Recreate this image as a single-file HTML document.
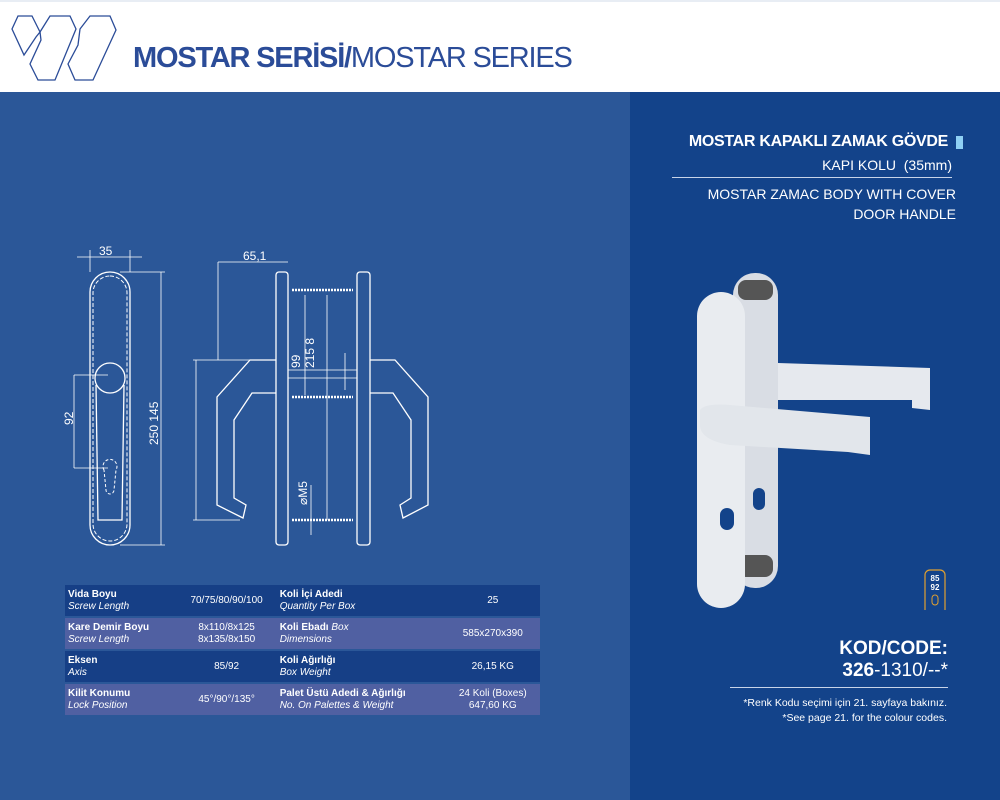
<!DOCTYPE html>
<html><head><meta charset="utf-8"><style>
body{margin:0;width:1000px;height:800px;position:relative;overflow:hidden;font-family:"Liberation Sans",sans-serif;background:#fff}
.hdr{position:absolute;left:0;top:0;width:1000px;height:92px;background:#fff;border-top:2px solid #e8edf4;box-sizing:border-box}
.title{position:absolute;left:133px;top:40px;font-size:29px;color:#2b4c98;letter-spacing:-1.2px;white-space:nowrap}
.left{position:absolute;left:0;top:92px;width:630px;height:708px;background:#2b5798}
.right{position:absolute;left:630px;top:92px;width:370px;height:708px;background:#13438a}
table{position:absolute;left:65px;top:583px;width:475px;border-collapse:separate;border-spacing:0 2px;font-size:10px;color:#fff}
td{padding:2px 3px;height:27px;vertical-align:middle;line-height:12px}
tr.a td{background:#163f86}
tr.b td{background:#5060a2}
b{font-weight:bold}
i{font-style:italic}
.c{text-align:center}
.rt{position:absolute;right:45px;color:#fff;text-align:right;white-space:nowrap}
</style></head><body>
<div class="hdr">
<svg width="140" height="90" style="position:absolute;left:0;top:0" fill="none" stroke="#2b4c98" stroke-width="1.3">
<polygon points="12,27 18,14 32,14 40,30 36,35 24,53"/>
<polygon points="40,30 50,14 70,14 76,27 55,78 38,78 30,62 41,38"/>
<polygon points="80,27 90,14 110,14 116,28 93,78 75,78 68,62 78,43"/>
</svg>
<div class="title"><b>MOSTAR SERİSİ/</b>MOSTAR SERIES</div>
</div>
<div class="left"></div>
<div class="right"></div>
<svg width="630" height="560" style="position:absolute;left:0;top:0" fill="none" stroke="#fff" stroke-width="1.3">
<rect x="90" y="272" width="40" height="273" rx="20"/>
<rect x="93" y="276" width="34" height="265" rx="17" stroke-dasharray="4,2" stroke-width="1"/>
<circle cx="110" cy="378" r="15"/>
<path d="M96 385 L98 520 L122 520 L124 385"/>
<path d="M104 470 a7 7 0 1 1 12 0 L114 490 a4 4 0 0 1 -8 0 Z" stroke-dasharray="3,2" stroke-width="1"/>
<g stroke-width="0.8">
<line x1="77" y1="257" x2="142" y2="257"/><line x1="90" y1="250" x2="90" y2="272"/><line x1="130" y1="250" x2="130" y2="272"/>
<line x1="161" y1="272" x2="161" y2="545"/><line x1="120" y1="272" x2="165" y2="272"/><line x1="120" y1="545" x2="165" y2="545"/>
<line x1="74" y1="375" x2="74" y2="468"/><line x1="74" y1="375" x2="108" y2="375"/><line x1="74" y1="468" x2="108" y2="468"/>
<line x1="218" y1="262" x2="288" y2="262"/><line x1="218" y1="262" x2="218" y2="360"/>
<line x1="196" y1="360" x2="196" y2="520"/><line x1="193" y1="360" x2="250" y2="360"/><line x1="193" y1="520" x2="240" y2="520"/>
<line x1="305" y1="295" x2="305" y2="395"/><line x1="327" y1="295" x2="327" y2="520"/>
<line x1="345" y1="353" x2="345" y2="390"/>
<line x1="311" y1="485" x2="311" y2="535"/>
<line x1="288" y1="370" x2="357" y2="370"/><line x1="288" y1="378" x2="357" y2="378"/>
</g>
<rect x="276" y="272" width="12" height="273" rx="3"/>
<rect x="357" y="272" width="13" height="273" rx="3"/>
<g stroke-width="2.5" stroke-dasharray="2,1"><line x1="292" y1="290" x2="353" y2="290"/><line x1="292" y1="397" x2="353" y2="397"/><line x1="292" y1="520" x2="353" y2="520"/></g>
<path d="M276 360 L250 360 L217 397 L217 505 L243 518 L246 505 L234 498 L234 420 L252 393 L276 393"/>
<path d="M370 360 L395 360 L428 397 L428 505 L403 518 L400 505 L411 498 L411 420 L393 393 L370 393"/>
<g fill="#fff" stroke="none" font-size="12" font-family="Liberation Sans">
<text x="99" y="255">35</text><text x="243" y="260">65,1</text>
<text transform="translate(158,445) rotate(-90)">250 145</text>
<text transform="translate(73,425) rotate(-90)">92</text>
<text transform="translate(300,368) rotate(-90)">99</text>
<text transform="translate(314,368) rotate(-90)">215 8</text>
<text transform="translate(307,505) rotate(-90)">⌀M5</text>
</g>
</svg>
<table>
<tr class="a"><td><b>Vida Boyu</b><br><i>Screw Length</i></td><td class="c">70/75/80/90/100</td><td><b>Koli İçi Adedi</b><br><i>Quantity Per Box</i></td><td class="c">25</td></tr>
<tr class="b"><td><b>Kare Demir Boyu</b><br><i>Screw Length</i></td><td class="c">8x110/8x125<br>8x135/8x150</td><td><b>Koli Ebadı</b> <i>Box<br>Dimensions</i></td><td class="c">585x270x390</td></tr>
<tr class="a"><td><b>Eksen</b><br><i>Axis</i></td><td class="c">85/92</td><td><b>Koli Ağırlığı</b><br><i>Box Weight</i></td><td class="c">26,15 KG</td></tr>
<tr class="b"><td><b>Kilit Konumu</b><br><i>Lock Position</i></td><td class="c">45°/90°/135°</td><td><b>Palet Üstü Adedi &amp; Ağırlığı</b><br><i>No. On Palettes &amp; Weight</i></td><td class="c">24 Koli (Boxes)<br>647,60 KG</td></tr>
</table>
<div class="rt" style="top:133px;font-size:16px;font-weight:bold;right:52px;letter-spacing:-0.3px">MOSTAR KAPAKLI ZAMAK GÖVDE</div>
<div style="position:absolute;left:956px;top:136px;width:7px;height:13px;background:#8fd0f4"></div>
<div class="rt" style="top:157px;font-size:14px;right:48px">KAPI KOLU &nbsp;(35mm)</div>
<div style="position:absolute;left:672px;top:177px;width:280px;height:1px;background:#c8d4e8"></div>
<div class="rt" style="top:184px;font-size:14px;line-height:20px;right:44px">MOSTAR ZAMAC BODY WITH COVER<br>DOOR HANDLE</div>
<svg width="370" height="350" style="position:absolute;left:630px;top:260px">
<rect x="103" y="13" width="45" height="315" rx="22" fill="#d9dde4"/>
<rect x="108" y="20" width="35" height="20" rx="8" fill="#555"/>
<rect x="108" y="295" width="35" height="22" rx="8" fill="#555"/>
<path d="M148 103 L300 108 L300 150 L282 148 L282 140 L148 140 Z" fill="#e6e9ee"/>
<rect x="67" y="32" width="48" height="316" rx="24" fill="#e9ecf0"/>
<path d="M70 150 Q75 143 100 145 L240 157 L240 195 L218 192 L100 185 Q70 180 70 165 Z" fill="#e2e6eb"/>
<rect x="90" y="248" width="14" height="22" rx="7" fill="#13438a"/>
<rect x="123" y="228" width="12" height="22" rx="6" fill="#13438a"/>
<rect x="295" y="310" width="20" height="48" rx="5" fill="none" stroke="#e0a030" stroke-width="1.2"/>
<text x="305" y="321" fill="#fff" font-size="8" font-weight="bold" text-anchor="middle" font-family="Liberation Sans">85</text>
<text x="305" y="330" fill="#fff" font-size="8" font-weight="bold" text-anchor="middle" font-family="Liberation Sans">92</text>
<rect x="302" y="335" width="6" height="10" rx="3" fill="none" stroke="#e0a030"/>
</svg>
<div class="rt" style="top:638px;font-size:19px;font-weight:bold;line-height:22px;right:52px">KOD/CODE:<br><b>326</b><span style="font-weight:normal">-1310/--*</span></div>
<div style="position:absolute;left:730px;top:687px;width:218px;height:1px;background:#c8d4e8"></div>
<div class="rt" style="top:696px;font-size:10.5px;line-height:15px;right:53px">*Renk Kodu seçimi için 21. sayfaya bakınız.<br>*See page 21. for the colour codes.</div>
</body></html>
